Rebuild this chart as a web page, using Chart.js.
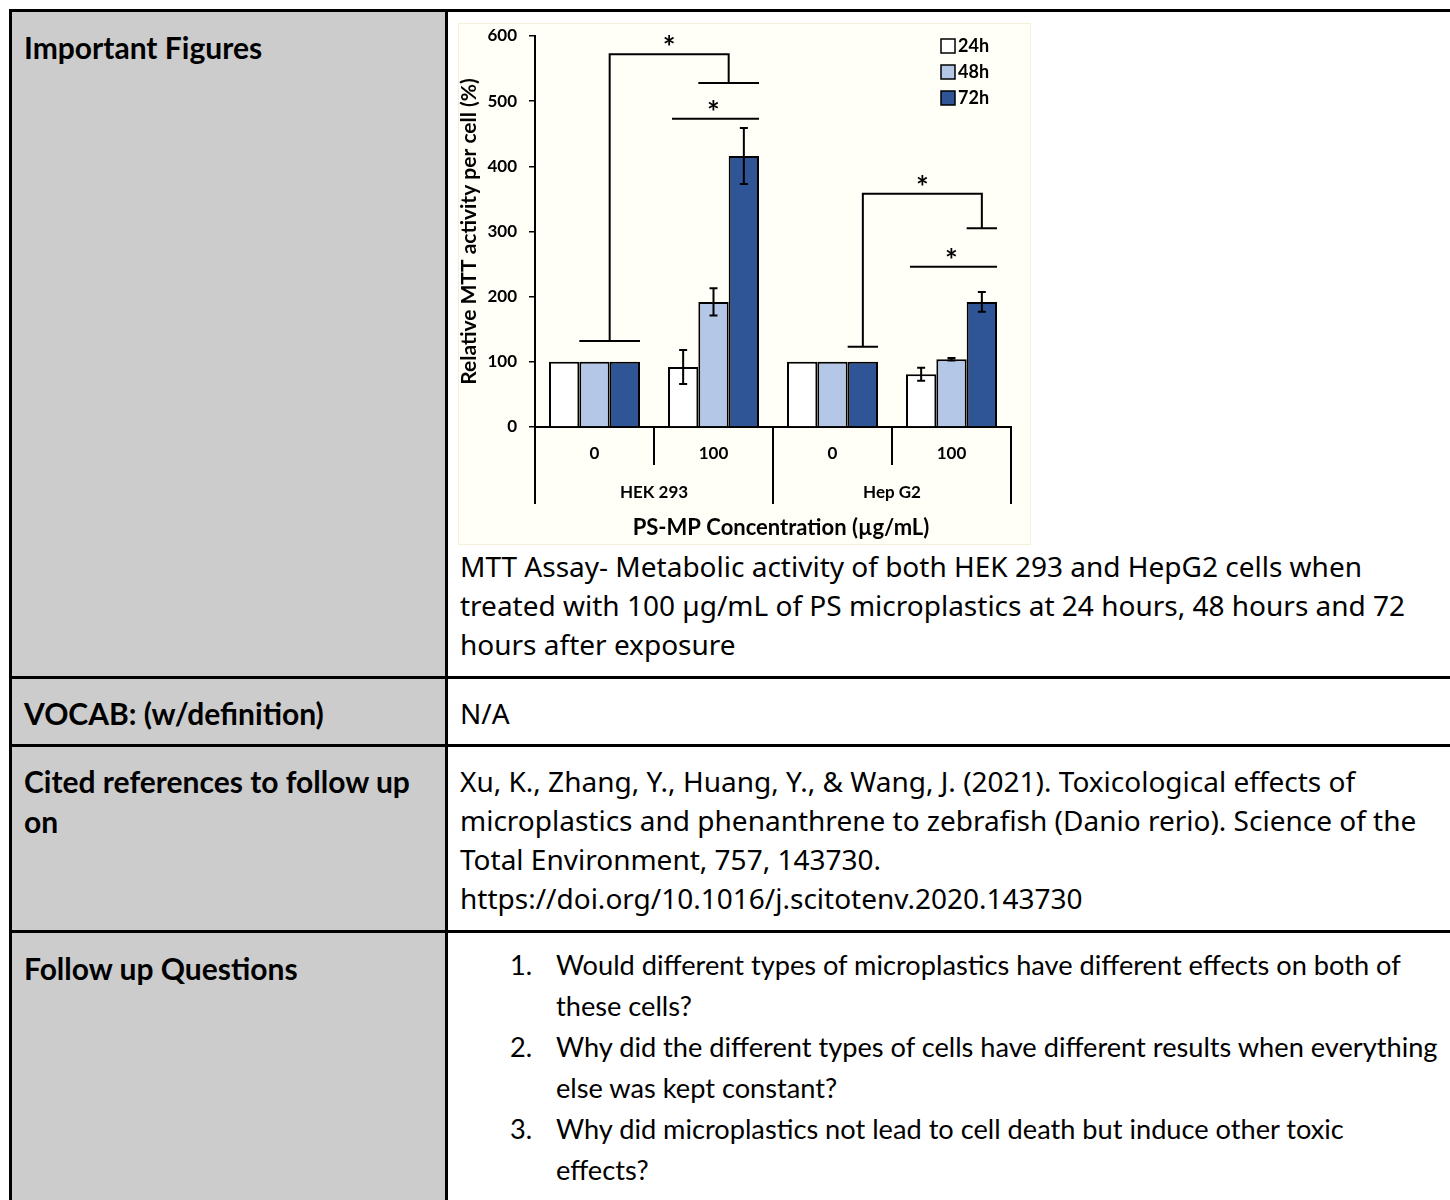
<!DOCTYPE html>
<html>
<head>
<meta charset="utf-8">
<script src="https://cdn.jsdelivr.net/npm/chart.js"></script>
<style>
body{margin:0;width:1450px;height:1200px;background:#fff;position:relative;overflow:hidden}
.b{position:absolute;background:#000}
.g{position:absolute;background:#cccccc}
.t{position:absolute;white-space:nowrap;color:#000}
.h{font:700 30px/40px Lato;left:24px}
.r{font:400 28px/40px "Noto Sans", Lato;left:460px}
.q{font:400 27.2px/40px Lato}
#card{position:absolute;left:459px;top:24px;width:571px;height:520px;background:#fffef7;box-shadow:0 0 0 1px #f4f0dc}
</style>
</head>
<body>
<div class="g" style="left:12px;top:12px;width:433px;height:1188px"></div>
<div class="b" style="left:9px;top:9px;width:1441px;height:3px"></div>
<div class="b" style="left:9px;top:9px;width:3px;height:1191px"></div>
<div class="b" style="left:445px;top:9px;width:3px;height:1191px"></div>
<div class="b" style="left:9px;top:676px;width:1441px;height:3px"></div>
<div class="b" style="left:9px;top:744px;width:1441px;height:3px"></div>
<div class="b" style="left:9px;top:930px;width:1441px;height:3px"></div>

<div class="t h" style="top:27px">Important Figures</div>
<div class="t h" style="top:693px">VOCAB: (w/definition)</div>
<div class="t h" style="top:761px">Cited references to follow up</div>
<div class="t h" style="top:801px">on</div>
<div class="t h" style="top:948px">Follow up Questions</div>

<div id="card"><canvas id="mttChart"></canvas></div>

<div class="t r" style="top:546px">MTT Assay- Metabolic activity of both HEK 293 and HepG2 cells when</div>
<div class="t r" style="top:585px">treated with 100 µg/mL of PS microplastics at 24 hours, 48 hours and 72</div>
<div class="t r" style="top:624px">hours after exposure</div>
<div class="t r" style="top:693px">N/A</div>
<div class="t r" style="top:761px">Xu, K., Zhang, Y., Huang, Y., &amp; Wang, J. (2021). Toxicological effects of</div>
<div class="t r" style="top:800px">microplastics and phenanthrene to zebrafish (Danio rerio). Science of the</div>
<div class="t r" style="top:839px">Total Environment, 757, 143730.</div>
<div class="t r" style="top:878px">https://doi.org/10.1016/j.scitotenv.2020.143730</div>

<div class="t q" style="top:945px;left:510px">1.</div>
<div class="t q" style="top:945px;left:556px">Would different types of microplastics have different effects on both of</div>
<div class="t q" style="top:986px;left:556px">these cells?</div>
<div class="t q" style="top:1027px;left:510px">2.</div>
<div class="t q" style="top:1027px;left:556px">Why did the different types of cells have different results when everything</div>
<div class="t q" style="top:1068px;left:556px">else was kept constant?</div>
<div class="t q" style="top:1109px;left:510px">3.</div>
<div class="t q" style="top:1109px;left:556px">Why did microplastics not lead to cell death but induce other toxic</div>
<div class="t q" style="top:1150px;left:556px">effects?</div>

<script>
const concLabels = ['0', '100', '0', '100'];
const cellLines = ['HEK 293', 'Hep G2'];
const timeLabels = ['24h', '48h', '72h'];
const mtt24h = [100, 92, 100, 81];
const mtt48h = [100, 192, 100, 104];
const mtt72h = [100, 416, 100, 192];
const sd24h = [0, 26, 0, 10];
const sd48h = [0, 21, 0, 2];
const sd72h = [0, 43, 0, 15];
const yTicks = [0, 100, 200, 300, 400, 500, 600];
const xTitle = 'PS-MP Concentration (µg/mL)';
const yTitle = 'Relative MTT activity per cell (%)';
// control bars -> treated bars, heights in % units
const sigPairs = [
  { from: [0, [1, 2]], to: [1, [1, 2]], low: 132, high: 572, end: 528 },
  { from: [2, [2]], to: [3, [2]], low: 123, high: 358, end: 305 }
];
const sigLines = [{ cat: 1, y: 473 }, { cat: 3, y: 246 }];

const barColors = ['#ffffff', '#b4c7e7', '#2f5597'];

Chart.defaults.font.family = 'Lato';
Chart.defaults.color = '#000';

function barSpan(chart, cat, sets) {
  let l = Infinity, r = -Infinity;
  sets.forEach(d => {
    const bar = chart.getDatasetMeta(d).data[cat];
    l = Math.min(l, bar.x - bar.width / 2);
    r = Math.max(r, bar.x + bar.width / 2);
  });
  return { l, r, m: (l + r) / 2 };
}

function star(ctx, x, y) {
  ctx.font = 'bold 30px Lato';
  ctx.textAlign = 'center';
  ctx.textBaseline = 'alphabetic';
  ctx.fillText('*', x, y + 16);
}

const extras = {
  id: 'extras',
  afterDatasetsDraw(chart) {
    const ctx = chart.ctx, ys = chart.scales.y, xs = chart.scales.x, a = chart.chartArea;
    ctx.save();
    ctx.strokeStyle = '#000';
    ctx.fillStyle = '#000';
    ctx.lineWidth = 2;

    // error bars
    [sd24h, sd48h, sd72h].forEach((sd, d) => {
      chart.getDatasetMeta(d).data.forEach((bar, i) => {
        if (!sd[i]) return;
        const v = chart.data.datasets[d].data[i];
        const t = ys.getPixelForValue(v + sd[i]), b = ys.getPixelForValue(v - sd[i]);
        ctx.beginPath();
        ctx.moveTo(bar.x, t); ctx.lineTo(bar.x, b);
        ctx.moveTo(bar.x - 4, t); ctx.lineTo(bar.x + 4, t);
        ctx.moveTo(bar.x - 4, b); ctx.lineTo(bar.x + 4, b);
        ctx.stroke();
      });
    });

    // significance brackets
    sigPairs.forEach(p => {
      const s1 = barSpan(chart, p.from[0], p.from[1]);
      const s2 = barSpan(chart, p.to[0], p.to[1]);
      const yl = ys.getPixelForValue(p.low), yh = ys.getPixelForValue(p.high), ye = ys.getPixelForValue(p.end);
      ctx.beginPath();
      ctx.moveTo(s1.l, yl); ctx.lineTo(s1.r, yl);
      ctx.moveTo(s1.m, yl); ctx.lineTo(s1.m, yh); ctx.lineTo(s2.m, yh); ctx.lineTo(s2.m, ye);
      ctx.moveTo(s2.l, ye); ctx.lineTo(s2.r, ye);
      ctx.stroke();
      star(ctx, (s1.m + s2.m) / 2, yh - 12);
    });
    sigLines.forEach(s => {
      const sp = barSpan(chart, s.cat, [0, 1, 2]);
      const yy = ys.getPixelForValue(s.y);
      ctx.beginPath();
      ctx.moveTo(sp.l + 4, yy); ctx.lineTo(sp.r, yy);
      ctx.stroke();
      star(ctx, sp.m, yy - 12);
    });

    // category dividers below the axis
    const c = concLabels.map((_, i) => xs.getPixelForValue(i));
    const bounds = [a.left];
    for (let i = 0; i < c.length - 1; i++) bounds.push((c[i] + c[i + 1]) / 2);
    bounds.push(a.right);
    ctx.beginPath();
    bounds.forEach((bx, i) => {
      ctx.moveTo(bx, a.bottom);
      ctx.lineTo(bx, a.bottom + (i % 2 ? 38 : 77));
    });
    ctx.stroke();

    ctx.textAlign = 'center';
    ctx.textBaseline = 'middle';
    ctx.font = 'bold 17px Lato';
    cellLines.forEach((name, i) => {
      ctx.fillText(name, (bounds[i * 2] + bounds[i * 2 + 2]) / 2, a.bottom + 66);
    });
    ctx.font = 'bold 22px Lato';
    ctx.fillText(xTitle, (a.left + a.right) / 2 + 8, a.bottom + 101);

    // legend
    ctx.textAlign = 'left';
    ctx.font = 'bold 18px Lato';
    ctx.lineWidth = 1.5;
    timeLabels.forEach((lab, i) => {
      const cy = 22 + i * 26;
      ctx.fillStyle = barColors[i];
      ctx.fillRect(482, cy - 7, 14, 14);
      ctx.strokeRect(482, cy - 7, 14, 14);
      ctx.fillStyle = '#000';
      ctx.fillText(lab, 499, cy);
    });
    ctx.restore();
  }
};

new Chart(document.getElementById('mttChart'), {
  type: 'bar',
  data: {
    labels: concLabels,
    datasets: [
      { label: timeLabels[0], data: mtt24h, backgroundColor: barColors[0] },
      { label: timeLabels[1], data: mtt48h, backgroundColor: barColors[1] },
      { label: timeLabels[2], data: mtt72h, backgroundColor: barColors[2] }
    ].map(ds => Object.assign(ds, {
      borderColor: '#000', borderWidth: 2,
      categoryPercentage: 0.765, barPercentage: 1
    }))
  },
  options: {
    responsive: true,
    maintainAspectRatio: false,
    animation: false,
    layout: { padding: { top: 12, right: 19, left: 0, bottom: 0 } },
    plugins: { legend: { display: false }, tooltip: { enabled: false } },
    scales: {
      x: {
        grid: { display: false, drawTicks: false },
        border: { color: '#000', width: 2 },
        ticks: { font: { size: 17, weight: 'bold' }, padding: 16 },
        afterFit(s) { s.height = 117; s.paddingLeft = 0; s.paddingRight = 0; }
      },
      y: {
        min: 0, max: 600,
        afterBuildTicks(s) { s.ticks = yTicks.map(v => ({ value: v })); },
        grid: { drawOnChartArea: false, drawTicks: true, tickLength: 6, color: '#000', lineWidth: 1.5 },
        border: { color: '#000', width: 2 },
        ticks: { font: { size: 17, weight: 'bold' }, padding: 12 },
        title: { display: true, text: yTitle, font: { size: 21, weight: 'bold', lineHeight: 1 }, padding: 0 },
        afterFit(s) { s.width = 76; s.paddingTop = 0; s.paddingBottom = 0; }
      }
    }
  },
  plugins: [extras]
});
</script>
</body>
</html>
